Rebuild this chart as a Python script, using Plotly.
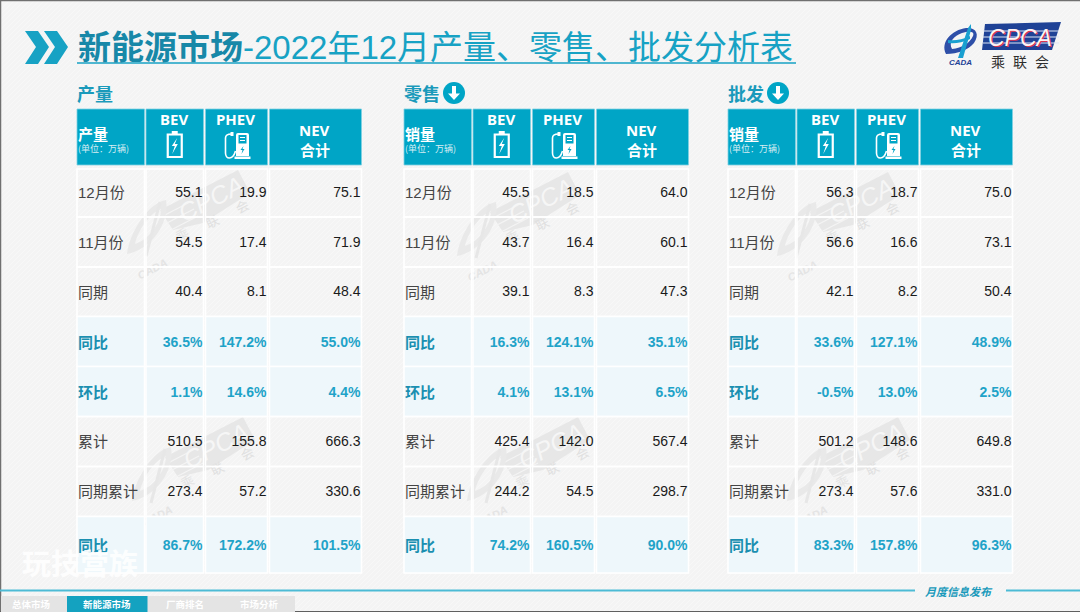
import plotly.graph_objects as go

# ---------- data ----------
row_labels = ["12月份", "11月份", "同期", "同比", "环比", "累计", "同期累计", "同比"]
percent_rows = [3, 4, 7]

production_bev = [55.1, 54.5, 40.4, 36.5, 1.1, 510.5, 273.4, 86.7]
production_phev = [19.9, 17.4, 8.1, 147.2, 14.6, 155.8, 57.2, 172.2]
production_nev = [75.1, 71.9, 48.4, 55.0, 4.4, 666.3, 330.6, 101.5]

retail_bev = [45.5, 43.7, 39.1, 16.3, 4.1, 425.4, 244.2, 74.2]
retail_phev = [18.5, 16.4, 8.3, 124.1, 13.1, 142.0, 54.5, 160.5]
retail_nev = [64.0, 60.1, 47.3, 35.1, 6.5, 567.4, 298.7, 90.0]

wholesale_bev = [56.3, 56.6, 42.1, 33.6, -0.5, 501.2, 273.4, 83.3]
wholesale_phev = [18.7, 16.6, 8.2, 127.1, 13.0, 148.6, 57.6, 157.8]
wholesale_nev = [75.0, 73.1, 50.4, 48.9, 2.5, 649.8, 331.0, 96.3]

panel_titles = ["产量", "零售", "批发"]
panel_corner = ["产量", "销量", "销量"]
panel_series = [
    (production_bev, production_phev, production_nev),
    (retail_bev, retail_phev, retail_nev),
    (wholesale_bev, wholesale_phev, wholesale_nev),
]
tab_labels = ["总体市场", "新能源市场", "厂商排名", "市场分析"]

# ---------- geometry / style ----------
W, H = 1080, 612
TEAL = "#00A5C6"
TITLE = "#17A2C4"
PCT = "#1FA3C8"
TINT = "#EEF7FB"
BG = "#F4F4F4"
CJK = "Noto Sans CJK SC"
SANS = f"Liberation Sans, {CJK}"
HEAD = f"Noto Sans, {CJK}"

panel_x = [77, 404, 728]
col_edges = [(0, 67.5), (69, 126.5), (128.5, 190.5), (192.5, 284.5)]
row_edges = [168, 217, 267, 316.5, 366.5, 416.5, 466.5, 516.5, 573]
head_top, head_bot = 109, 165

shapes, annos, traces = [], [], []


def rect(x0, y0, x1, y1, fill, line=None, lw=0, layer="below"):
    shapes.append(dict(type="rect", xref="x", yref="y", x0=x0, y0=y0, x1=x1, y1=y1, layer=layer,
                       fillcolor=fill, line=dict(color=line or "rgba(0,0,0,0)", width=lw)))


def path(d, fill="rgba(0,0,0,0)", line=None, lw=0, layer="below", opacity=1):
    shapes.append(dict(type="path", xref="x", yref="y", path=d, layer=layer, opacity=opacity,
                       fillcolor=fill, line=dict(color=line or "rgba(0,0,0,0)", width=lw)))


def poly(points):
    return "M" + " L".join(f"{x:.1f},{y:.1f}" for x, y in points) + " Z"


def text(x, y, s, size, color, family=CJK, anchor="center", angle=0, opacity=1):
    annos.append(dict(x=x, y=y, xref="x", yref="y", text=s, showarrow=False, xanchor=anchor, yanchor="middle",
                      textangle=angle, opacity=opacity, font=dict(size=size, color=color, family=family),
                      borderpad=0, borderwidth=0))


def under_text(x, y, s, size, color, family=CJK, angle=-27):
    """Rotated text kept in the shape layer, underneath the table values."""
    shapes.append(dict(type="rect", xref="x", yref="y", x0=x - 2, x1=x + 2, y0=y - 2, y1=y + 2, layer="below",
                       fillcolor="rgba(0,0,0,0)", line=dict(width=0),
                       label=dict(text=s, textangle=angle, textposition="middle center",
                                  font=dict(size=size, color=color, family=family))))


# page
rect(0, 0, W, H, BG)
hatch = " ".join(f"M{x},{H} L{x + H},0" for x in range(-H, W, 5))
path(hatch, line="#FFFFFF", lw=1, opacity=0.45)
path(f"M0.5,{H} L0.5,0.5 L{W},0.5", line="#707070", lw=1.5)
shapes.append(dict(type="line", xref="x", yref="y", x0=0, x1=W, y0=611.5, y1=611.5,
                   line=dict(color="#606060", width=1), layer="below"))


# watermarks
def watermark(ax, ay):
    c = "#E7E7E7"
    path(poly([(ax, ay), (ax + 78, ay - 40), (ax + 90, ay - 17), (ax + 43, ay + 13), (ax + 13, ay + 20)]), fill=c)
    for k in [0, 1, 2]:
        path(f"M{ax+3+k*4},{ay+6+k*7} L{ax+30+k*4},{ay-8+k*7}", line="#F4F4F4", lw=1.2)
    under_text(ax + 50, ay - 13, "<i>CPCA</i>", 25, "#F6F6F6", SANS)
    under_text(ax + 53, ay + 13, "联", 13, "#E0E0E0")
    under_text(ax + 83, ay - 2, "会", 13, "#E0E0E0")
    under_text(ax + 23, ay + 26, "乘", 13, "#E4E4E4")
    path(f"M{ax-33},{ay+44} C{ax-30},{ay+20} {ax-10},{ay-8} {ax+6},{ay-10} "
         f"C{ax+10},{ay+14} {ax-10},{ay+40} {ax-33},{ay+44} Z "
         f"M{ax-25},{ay+34} C{ax-12},{ay+30} {ax+1},{ay+14} {ax+1},{ay-1} "
         f"C{ax-10},{ay+3} {ax-22},{ay+20} {ax-25},{ay+34} Z", fill="#E9E9E9")
    path(f"M{ax-14},{ay+46} L{ax},{ay-8}", line="#E7E7E7", lw=3)
    under_text(ax - 8, ay + 58, "<b><i>CADA</i></b>", 11, "#E4E4E4", SANS)


for ax, ay in [(160, 210), (490, 212), (810, 212), (165, 457), (500, 457), (820, 457)]:
    watermark(ax, ay)

# title
path(poly([(25, 31), (38, 31), (49, 47), (38, 64), (25, 64), (36, 47)]), fill=TITLE)
path(poly([(44, 31), (57, 31), (68, 47), (57, 64), (44, 64), (55, 47)]), fill=TITLE)
annos.append(dict(x=76, y=47, xref="x", yref="y", xanchor="left", yanchor="middle", showarrow=False,
                  text='<b><span style="color:#1788A8">新能源市场</span></b>-2022年12月产量、零售、批发分析表',
                  font=dict(size=33, color=TITLE, family=SANS)))
shapes.append(dict(type="line", xref="x", yref="y", x0=77, x1=796, y0=63, y1=63,
                   line=dict(color=TITLE, width=1.5), layer="above"))

# logo
path(poly([(985, 24), (1061, 22), (1052, 50), (982, 50)]), fill="#1F4296")
for yy in [31, 37, 43]:
    shapes.append(dict(type="line", xref="x", yref="y", x0=983, x1=1059, y0=yy, y1=yy,
                       line=dict(color="#DDE5F5", width=1), layer="below"))
text(1020.7, 38.5, "<i>CPCA</i>", 23, "#D8344F", SANS)
text(1020, 38, "<i>CPCA</i>", 23, "#FDF2F4", SANS)
text(998, 61, "乘", 14, "#2E2E2E")
text(1020, 61, "联", 14, "#2E2E2E")
text(1042, 61, "会", 14, "#2E2E2E")
path("M946,54 C940,42 952,30 966,28 C976,27 980,34 974,43 C968,50 958,54 946,54 Z M952,49 "
     "C962,48 970,43 973,36 C975,31 969,31 962,33 C954,36 948,42 952,49 Z", fill="#2E4FA8")
path("M958,58 L968,28 L971,24 L971,30 L963,58 Z", fill="#1AA0D0")
path("M948,40 C954,41 962,40 970,36 L970,39 C962,43 954,44 948,43 Z", fill="#1AA0D0")
text(960, 62, "<b><i>CADA</i></b>", 8, "#1F4296", SANS)


def battery(cx, top):
    path(f"M{cx-7},{top+3.5} L{cx+7},{top+3.5} L{cx+7},{top+26} L{cx-7},{top+26} Z", line="white", lw=2.2, layer="above")
    rect(cx - 3, top, cx + 3, top + 3, "white", layer="above")
    path(poly([(cx + 2.5, top + 7), (cx - 3, top + 15), (cx, top + 15), (cx - 2.5, top + 23), (cx + 3, top + 13), (cx, top + 13)]),
         fill="white", layer="above")


def pump(cx, top):
    bx = cx + 6
    path(f"M{bx-6.5},{top+3} Q{bx-6.5},{top+1} {bx-4.5},{top+1} L{bx+4.5},{top+1} Q{bx+6.5},{top+1} {bx+6.5},{top+3} "
         f"L{bx+6.5},{top+24} L{bx-6.5},{top+24} Z", fill="white", layer="above")
    rect(bx - 4, top + 3, bx + 4, top + 11.5, TEAL, layer="above")
    rect(bx - 2.5, top + 5, bx + 2.5, top + 6, "white", layer="above")
    rect(bx - 2.5, top + 8, bx + 2.5, top + 9, "white", layer="above")
    path(poly([(bx + 1, top + 14), (bx - 2, top + 18), (bx, top + 18), (bx - 1, top + 22), (bx + 2, top + 17), (bx, top + 17)]),
         fill=TEAL, layer="above")
    rect(bx - 8, top + 24.5, bx + 8, top + 27, "white", layer="above")
    path(f"M{bx-7},{top+19} C{bx-10},{top+29} {bx-17},{top+27} {bx-17},{top+21} L{bx-17},{top+6} "
         f"C{bx-17},{top+3} {bx-14},{top+2} {bx-11},{top+2}", line="white", lw=1.6, layer="above")
    rect(bx - 12, top, bx - 9, top + 4, "white", layer="above")


# panels
for p, px in enumerate(panel_x):
    text(px, 93, f"<b>{panel_titles[p]}</b>", 18, "#1A9ABB", anchor="left")
    if p:
        cx, cy = (454 if p == 1 else 778), 93
        shapes.append(dict(type="circle", xref="x", yref="y", x0=cx - 11, x1=cx + 11, y0=cy - 11, y1=cy + 11,
                           fillcolor=TEAL, line=dict(width=0), layer="above"))
        path(poly([(cx - 2, cy - 7), (cx + 2, cy - 7), (cx + 2, cy + 0.5), (cx + 6, cy + 0.5), (cx, cy + 7),
                   (cx - 6, cy + 0.5), (cx - 2, cy + 0.5)]), fill="white", layer="above")

    # header cells
    for a, b in col_edges:
        rect(px + a, head_top, px + b, head_bot, TEAL, "#7FD0E2", 0.8)
    text(px + 1, 133, f"<b>{panel_corner[p]}</b>", 15, "white", anchor="left")
    text(px + 1, 148.5, "(单位：万辆)", 9, "#D8EEF4", anchor="left")
    c2 = px + (col_edges[1][0] + col_edges[1][1]) / 2
    c3 = px + (col_edges[2][0] + col_edges[2][1]) / 2
    c4 = px + (col_edges[3][0] + col_edges[3][1]) / 2
    text(c2 - 1, 119, "<b>BEV</b>", 15, "white", HEAD)
    text(c3 - 1, 119, "<b>PHEV</b>", 15, "white", HEAD)
    text(c4 - 1, 130, "<b>NEV</b>", 15, "white", HEAD)
    text(c4 - 1, 149, "<b>合计</b>", 15, "white")
    battery(c2, 131)
    pump(c3, 132)

    # body cells
    for r in range(len(row_labels)):
        tinted = r in percent_rows
        for a, b in col_edges:
            rect(px + a, row_edges[r] + (1 if r == 0 else 0), px + b, row_edges[r + 1],
                 TINT if tinted else "rgba(0,0,0,0)", "white", 1.5)

    centers = [(row_edges[i] + row_edges[i + 1]) / 2 for i in range(len(row_labels))]

    # row labels
    plain = [i for i in range(len(row_labels)) if i not in percent_rows]
    traces.append(go.Scatter(x=[px + 1] * len(plain), y=[centers[i] + 2.2 for i in plain], mode="text",
                             text=[row_labels[i] for i in plain], textposition="middle right",
                             textfont=dict(size=15, color="#444444", family=SANS), hoverinfo="skip"))
    traces.append(go.Scatter(x=[px + 1] * len(percent_rows), y=[centers[i] + 2.5 for i in percent_rows], mode="text",
                             text=[f"<b>{row_labels[i]}</b>" for i in percent_rows], textposition="middle right",
                             textfont=dict(size=15, color="#1A8FB0", family=CJK), hoverinfo="skip"))

    # values
    for (a, b), series in zip(col_edges[1:], panel_series[p]):
        traces.append(go.Scatter(x=[px + b - 1] * len(plain), y=[centers[i] + 1 for i in plain], mode="text",
                                 text=[f"{series[i]:.1f}" for i in plain], textposition="middle left",
                                 textfont=dict(size=14, color="#1A1A1A", family=SANS), hoverinfo="skip"))
        traces.append(go.Scatter(x=[px + b - 1] * len(percent_rows), y=[centers[i] + 1.5 for i in percent_rows], mode="text",
                                 text=[f"<b>{series[i]:.1f}%</b>" for i in percent_rows], textposition="middle left",
                                 textfont=dict(size=14, color=PCT, family=SANS), hoverinfo="skip"))

# faint stamp
text(80, 562, "<b>玩技营族</b>", 29, "rgba(255,255,255,0.88)")

# footer
for x0, x1 in [(0, 915), (1006, W)]:
    shapes.append(dict(type="line", xref="x", yref="y", x0=x0, x1=x1, y0=590.5, y1=590.5,
                       line=dict(color="#4DBBD5", width=1.8), layer="below"))
text(959, 591, "<b><i>月度信息发布</i></b>", 11, "#1A9ABB")
rect(1, 596, 295, 612, "#E4E4E4")
rect(67, 596, 147.5, 612, "#14A2C0")
for cx, label in zip([31, 107, 185, 259], tab_labels):
    text(cx, 604, f"<b>{label}</b>", 9.5, "white")

fig = go.Figure(traces)
fig.update_layout(
    width=W, height=H, margin=dict(l=0, r=0, t=0, b=0), showlegend=False,
    paper_bgcolor=BG, plot_bgcolor=BG, shapes=shapes, annotations=annos,
    xaxis=dict(range=[0, W], visible=False, fixedrange=True),
    yaxis=dict(range=[H, 0], visible=False, fixedrange=True),
)
fig.write_html("out.html", config={"displayModeBar": False},
               post_script="document.body.style.margin='0';document.body.style.overflow='hidden';")
